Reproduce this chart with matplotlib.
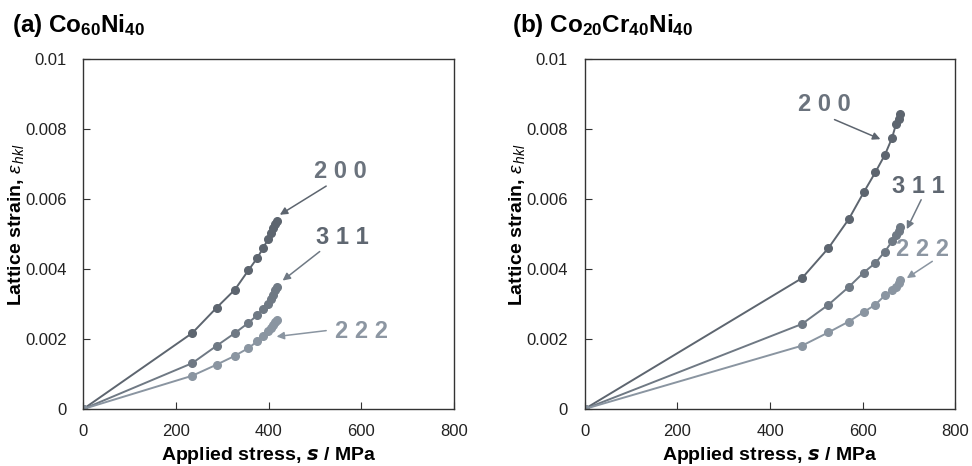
import numpy as np
import matplotlib.pyplot as plt

plt.rcParams['font.family'] = ['Liberation Sans', 'DejaVu Sans']
plt.rcParams['mathtext.fontset'] = 'custom'
plt.rcParams['mathtext.rm'] = 'Liberation Sans'
plt.rcParams['mathtext.it'] = 'Liberation Sans:italic'
plt.rcParams['mathtext.bf'] = 'Liberation Sans:bold'

# (a) Co60Ni40
stress_a = [0, 235, 288, 327, 356, 375, 388, 399, 406, 410, 414, 417]
strain_a_200 = [0, 0.00217, 0.00290, 0.00341, 0.00396, 0.00431, 0.00460, 0.00486, 0.00503, 0.00517, 0.00530, 0.00538]
strain_a_311 = [0, 0.00131, 0.00181, 0.00217, 0.00246, 0.00268, 0.00286, 0.00301, 0.00314, 0.00327, 0.00339, 0.00350]
strain_a_222 = [0, 0.00095, 0.00127, 0.00152, 0.00174, 0.00193, 0.00208, 0.00222, 0.00231, 0.00241, 0.00249, 0.00255]

# (b) Co20Cr40Ni40
stress_b = [0, 469, 526, 570, 602, 627, 648, 663, 672, 678, 681]
strain_b_200 = [0, 0.00374, 0.00460, 0.00543, 0.00619, 0.00676, 0.00727, 0.00774, 0.00815, 0.00830, 0.00842]
strain_b_311 = [0, 0.00243, 0.00298, 0.00349, 0.00390, 0.00417, 0.00450, 0.00479, 0.00498, 0.00508, 0.00519]
strain_b_222 = [0, 0.00181, 0.00219, 0.00250, 0.00277, 0.00298, 0.00325, 0.00339, 0.00350, 0.00360, 0.00368]

peaks = ['2 0 0', '3 1 1', '2 2 2']
line_colors = ['#5d656f', '#6f7984', '#8a95a1']
text_colors = ['#6b737d', '#5f6771', '#8c96a2']

# label position, arrow tail, arrow head (data coords)
labels_a = [((554, 0.00678), (524, 0.00637), (424, 0.00555)),
            ((558, 0.00489), (510, 0.00450), (430, 0.00367)),
            ((601, 0.00221), (524, 0.00224), (417, 0.00207))]
labels_b = [((517, 0.00869), (539, 0.00827), (638, 0.00771)),
            ((719, 0.00636), (726, 0.00598), (695, 0.00514)),
            ((729, 0.00457), (750, 0.00422), (695, 0.00374))]

fig = plt.figure(figsize=(9.72, 4.66), dpi=100)
ax_a = fig.add_axes([0.0857, 0.1223, 0.3815, 0.751])
ax_b = fig.add_axes([0.6015, 0.1223, 0.3815, 0.751])

panels = [
    (ax_a, stress_a, [strain_a_200, strain_a_311, strain_a_222], labels_a,
     r'(a) Co$_{\mathbf{60}}$Ni$_{\mathbf{40}}$', 0.012),
    (ax_b, stress_b, [strain_b_200, strain_b_311, strain_b_222], labels_b,
     r'(b) Co$_{\mathbf{20}}$Cr$_{\mathbf{40}}$Ni$_{\mathbf{40}}$', 0.527),
]

for ax, x, ys, labs, title, tx in panels:
    for y, c in zip(ys, line_colors):
        ax.plot(x, y, color=c, lw=1.4, marker='o', ms=5.5, mec=c, mfc=c)
    for name, tc, lc, (tpos, tail, head) in zip(peaks, text_colors, line_colors, labs):
        ax.text(tpos[0], tpos[1], name, ha='center', va='center', fontsize=17,
                fontweight='bold', color=tc)
        ax.annotate('', xy=head, xytext=tail,
                    arrowprops=dict(arrowstyle='-|>', color=lc, lw=1.1,
                                    mutation_scale=11, shrinkA=0, shrinkB=0))
    ax.set_xlim(0, 800)
    ax.set_ylim(0, 0.01)
    ax.set_xticks([0, 200, 400, 600, 800])
    ax.set_yticks([0, 0.002, 0.004, 0.006, 0.008, 0.01])
    ax.set_yticklabels(['0', '0.002', '0.004', '0.006', '0.008', '0.01'])
    ax.tick_params(direction='in', labelsize=12, length=5, color='#333333',
                   labelcolor='#222222')
    ax.tick_params(axis='y', pad=12)
    ax.tick_params(axis='x', pad=11)
    for sp in ax.spines.values():
        sp.set_color('#333333')
        sp.set_linewidth(1.0)
    ax.set_xlabel(r'Applied stress, $\mathbfit{s}$ / MPa', fontsize=14,
                  fontweight='bold')
    ax.set_ylabel(r'Lattice strain, $\varepsilon_{\,hkl}$', fontsize=14,
                  fontweight='bold')
    ax.xaxis.set_label_coords(0.5, -0.103)
    ax.yaxis.set_label_coords(-0.155, 0.525)
    fig.text(tx, 0.945, title, fontsize=17.5, fontweight='bold', ha='left', va='center')

fig.savefig('out.png', dpi=100)
